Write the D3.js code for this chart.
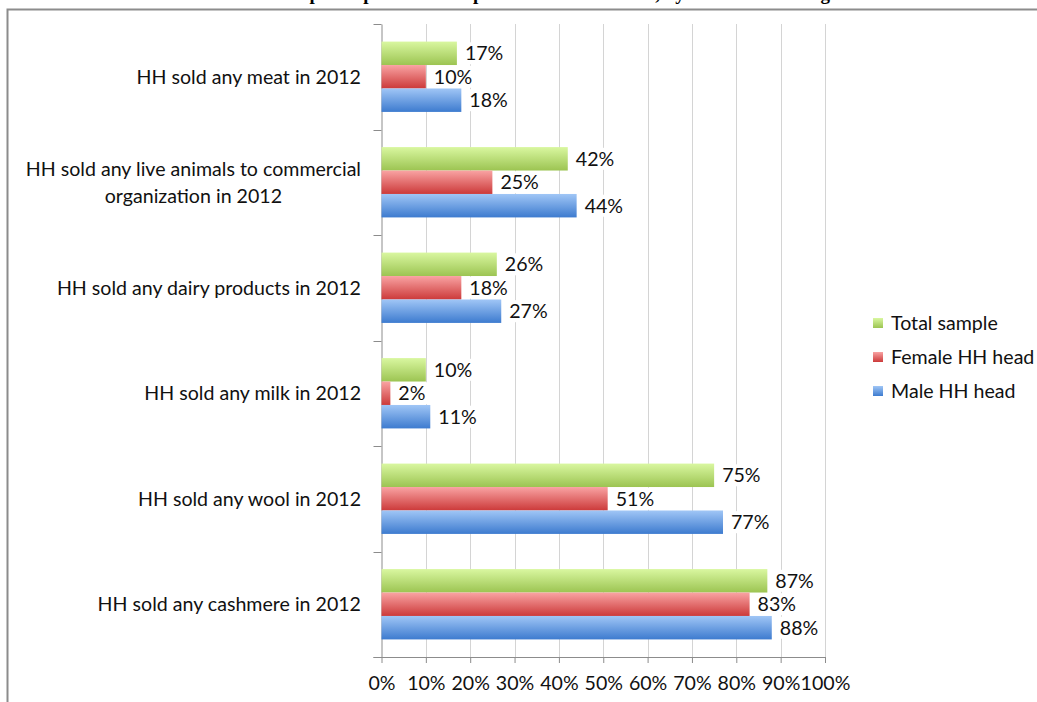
<!DOCTYPE html>
<html>
<head>
<meta charset="utf-8">
<script src="https://cdn.jsdelivr.net/npm/d3@7"></script>
<style>
  html, body { margin: 0; padding: 0; background: #fff; overflow: hidden; }
  svg { display: block; }
</style>
</head>
<body>
<svg id="chart" width="1037" height="702"></svg>
<script>
// Market activity of sample households by gender of household head
const titleText = "Market participation of sample households in 2012, by household head gender";
const categories = [
  "HH sold any meat in 2012",
  "HH sold any live animals to commercial|organization in 2012",
  "HH sold any dairy products in 2012",
  "HH sold any milk in 2012",
  "HH sold any wool in 2012",
  "HH sold any cashmere in 2012"
];
const seriesNames = ["Total sample", "Female HH head", "Male HH head"];
const totalSample = [17, 42, 26, 10, 75, 87];
const femaleHead = [10, 25, 18, 2, 51, 83];
const maleHead = [18, 44, 27, 11, 77, 88];
const xTicks = [0, 10, 20, 30, 40, 50, 60, 70, 80, 90, 100];

const seriesValues = [totalSample, femaleHead, maleHead];
const gradStops = [
  ["#d9f7a0", "#9cc452"],
  ["#f9a3a3", "#cc3a3a"],
  ["#a0c6f6", "#3d7bcf"]
];

const font = "Lato, 'Open Sans', sans-serif";
const fs = "19.6px";
const svg = d3.select("#chart");

// gradients for bar fills
const defs = svg.append("defs");
gradStops.forEach((g, i) => {
  const lg = defs.append("linearGradient").attr("id", "grad" + i)
    .attr("x1", 0).attr("y1", 0).attr("x2", 0).attr("y2", 1);
  lg.append("stop").attr("offset", "0%").attr("stop-color", g[0]);
  lg.append("stop").attr("offset", "100%").attr("stop-color", g[1]);
});

// title (runs off the top edge)
svg.append("text")
  .attr("x", 560).attr("y", 0)
  .attr("text-anchor", "middle")
  .style("font-family", "'Liberation Serif', 'Times New Roman', serif")
  .style("font-weight", "bold")
  .style("font-size", "19px")
  .text(titleText);

// outer frame
svg.append("rect")
  .attr("x", 7.5).attr("y", 9.5)
  .attr("width", 1100).attr("height", 800)
  .attr("fill", "none").attr("stroke", "#8c8c8c").attr("stroke-width", 2);

const plot = { left: 381.5, right: 825, top: 24, bottom: 657 };

const x = d3.scaleLinear().domain([0, 100]).range([plot.left, plot.right]);
const y = d3.scaleBand().domain(categories).range([plot.top, plot.bottom]);
const inner = d3.scaleBand().domain(d3.range(3))
  .range([0, y.bandwidth()]).paddingInner(0).paddingOuter(0.75);

// vertical gridlines
svg.append("g").selectAll("line")
  .data(xTicks.slice(1))
  .join("line")
  .attr("x1", d => Math.round(x(d)) + 0.5).attr("x2", d => Math.round(x(d)) + 0.5)
  .attr("y1", plot.top).attr("y2", plot.bottom)
  .attr("stroke", "#d4d4d4").attr("stroke-width", 1);

// x axis
const xAxis = d3.axisBottom(x).tickValues(xTicks).tickFormat(d => d + "%").tickSize(6).tickPadding(13);
const gx = svg.append("g").attr("transform", `translate(0,${plot.bottom})`).call(xAxis);
gx.select(".domain").attr("stroke", "#8c8c8c").attr("d", `M${plot.left - 8},0.5H${plot.right}`);
gx.selectAll(".tick line").attr("stroke", "#8c8c8c");
gx.selectAll(".tick text").style("font-family", font).style("font-size", fs).attr("fill", "#111");

// y axis
const yAxis = d3.axisLeft(y).tickSize(0).tickFormat("");
const gy = svg.append("g").attr("transform", `translate(${plot.left},0)`).call(yAxis);
gy.select(".domain").attr("stroke", "#8c8c8c");
// category boundary ticks
svg.append("g").selectAll("line")
  .data(categories.map(c => y(c)).concat([plot.bottom]))
  .join("line")
  .attr("x1", plot.left - 8).attr("x2", plot.left)
  .attr("y1", d => Math.round(d) + 0.5).attr("y2", d => Math.round(d) + 0.5)
  .attr("stroke", "#8c8c8c");

// category labels
categories.forEach(c => {
  const lines = c.split("|");
  const cy = y(c) + y.bandwidth() / 2;
  const lh = 27;
  const t = svg.append("text")
    .attr("text-anchor", "middle")
    .style("font-family", font).style("font-size", fs).attr("fill", "#111");
  lines.forEach((ln, i) => {
    t.append("tspan").attr("x", 0).attr("y", cy + (i - (lines.length - 1) / 2) * lh).attr("dy", "0.35em").text(ln);
  });
  const w = t.node().getBBox().width;
  t.selectAll("tspan").attr("x", 361 - w / 2);
});

// bars and value labels
const groups = svg.append("g").selectAll("g")
  .data(categories)
  .join("g")
  .attr("transform", d => `translate(0,${y(d)})`);

seriesValues.forEach((vals, s) => {
  groups.append("rect")
    .attr("x", plot.left)
    .attr("y", inner(s))
    .attr("width", (d, i) => x(vals[i]) - plot.left)
    .attr("height", inner.bandwidth())
    .attr("fill", `url(#grad${s})`);
});

seriesValues.forEach((vals, s) => {
  const lab = groups.append("g")
    .attr("transform", (d, i) => `translate(${x(vals[i]) + 4},${inner(s) + inner.bandwidth() / 2})`);
  lab.append("rect")
    .attr("x", 0).attr("y", -11).attr("height", 22)
    .attr("width", 48).attr("fill", "#fff");
  lab.append("text")
    .attr("x", 4).attr("dy", "0.35em")
    .style("font-family", font).style("font-size", fs).attr("fill", "#111")
    .text((d, i) => vals[i] + "%");
});

// legend
const legend = svg.append("g").attr("transform", "translate(873,323)");
seriesNames.forEach((n, i) => {
  const g = legend.append("g").attr("transform", `translate(0,${i * 34})`);
  g.append("rect").attr("x", 0).attr("y", -5).attr("width", 10).attr("height", 10)
    .attr("fill", `url(#grad${i})`);
  g.append("text").attr("x", 18).attr("dy", "0.35em")
    .style("font-family", font).style("font-size", fs).attr("fill", "#111").text(n);
});
</script>
</body>
</html>
